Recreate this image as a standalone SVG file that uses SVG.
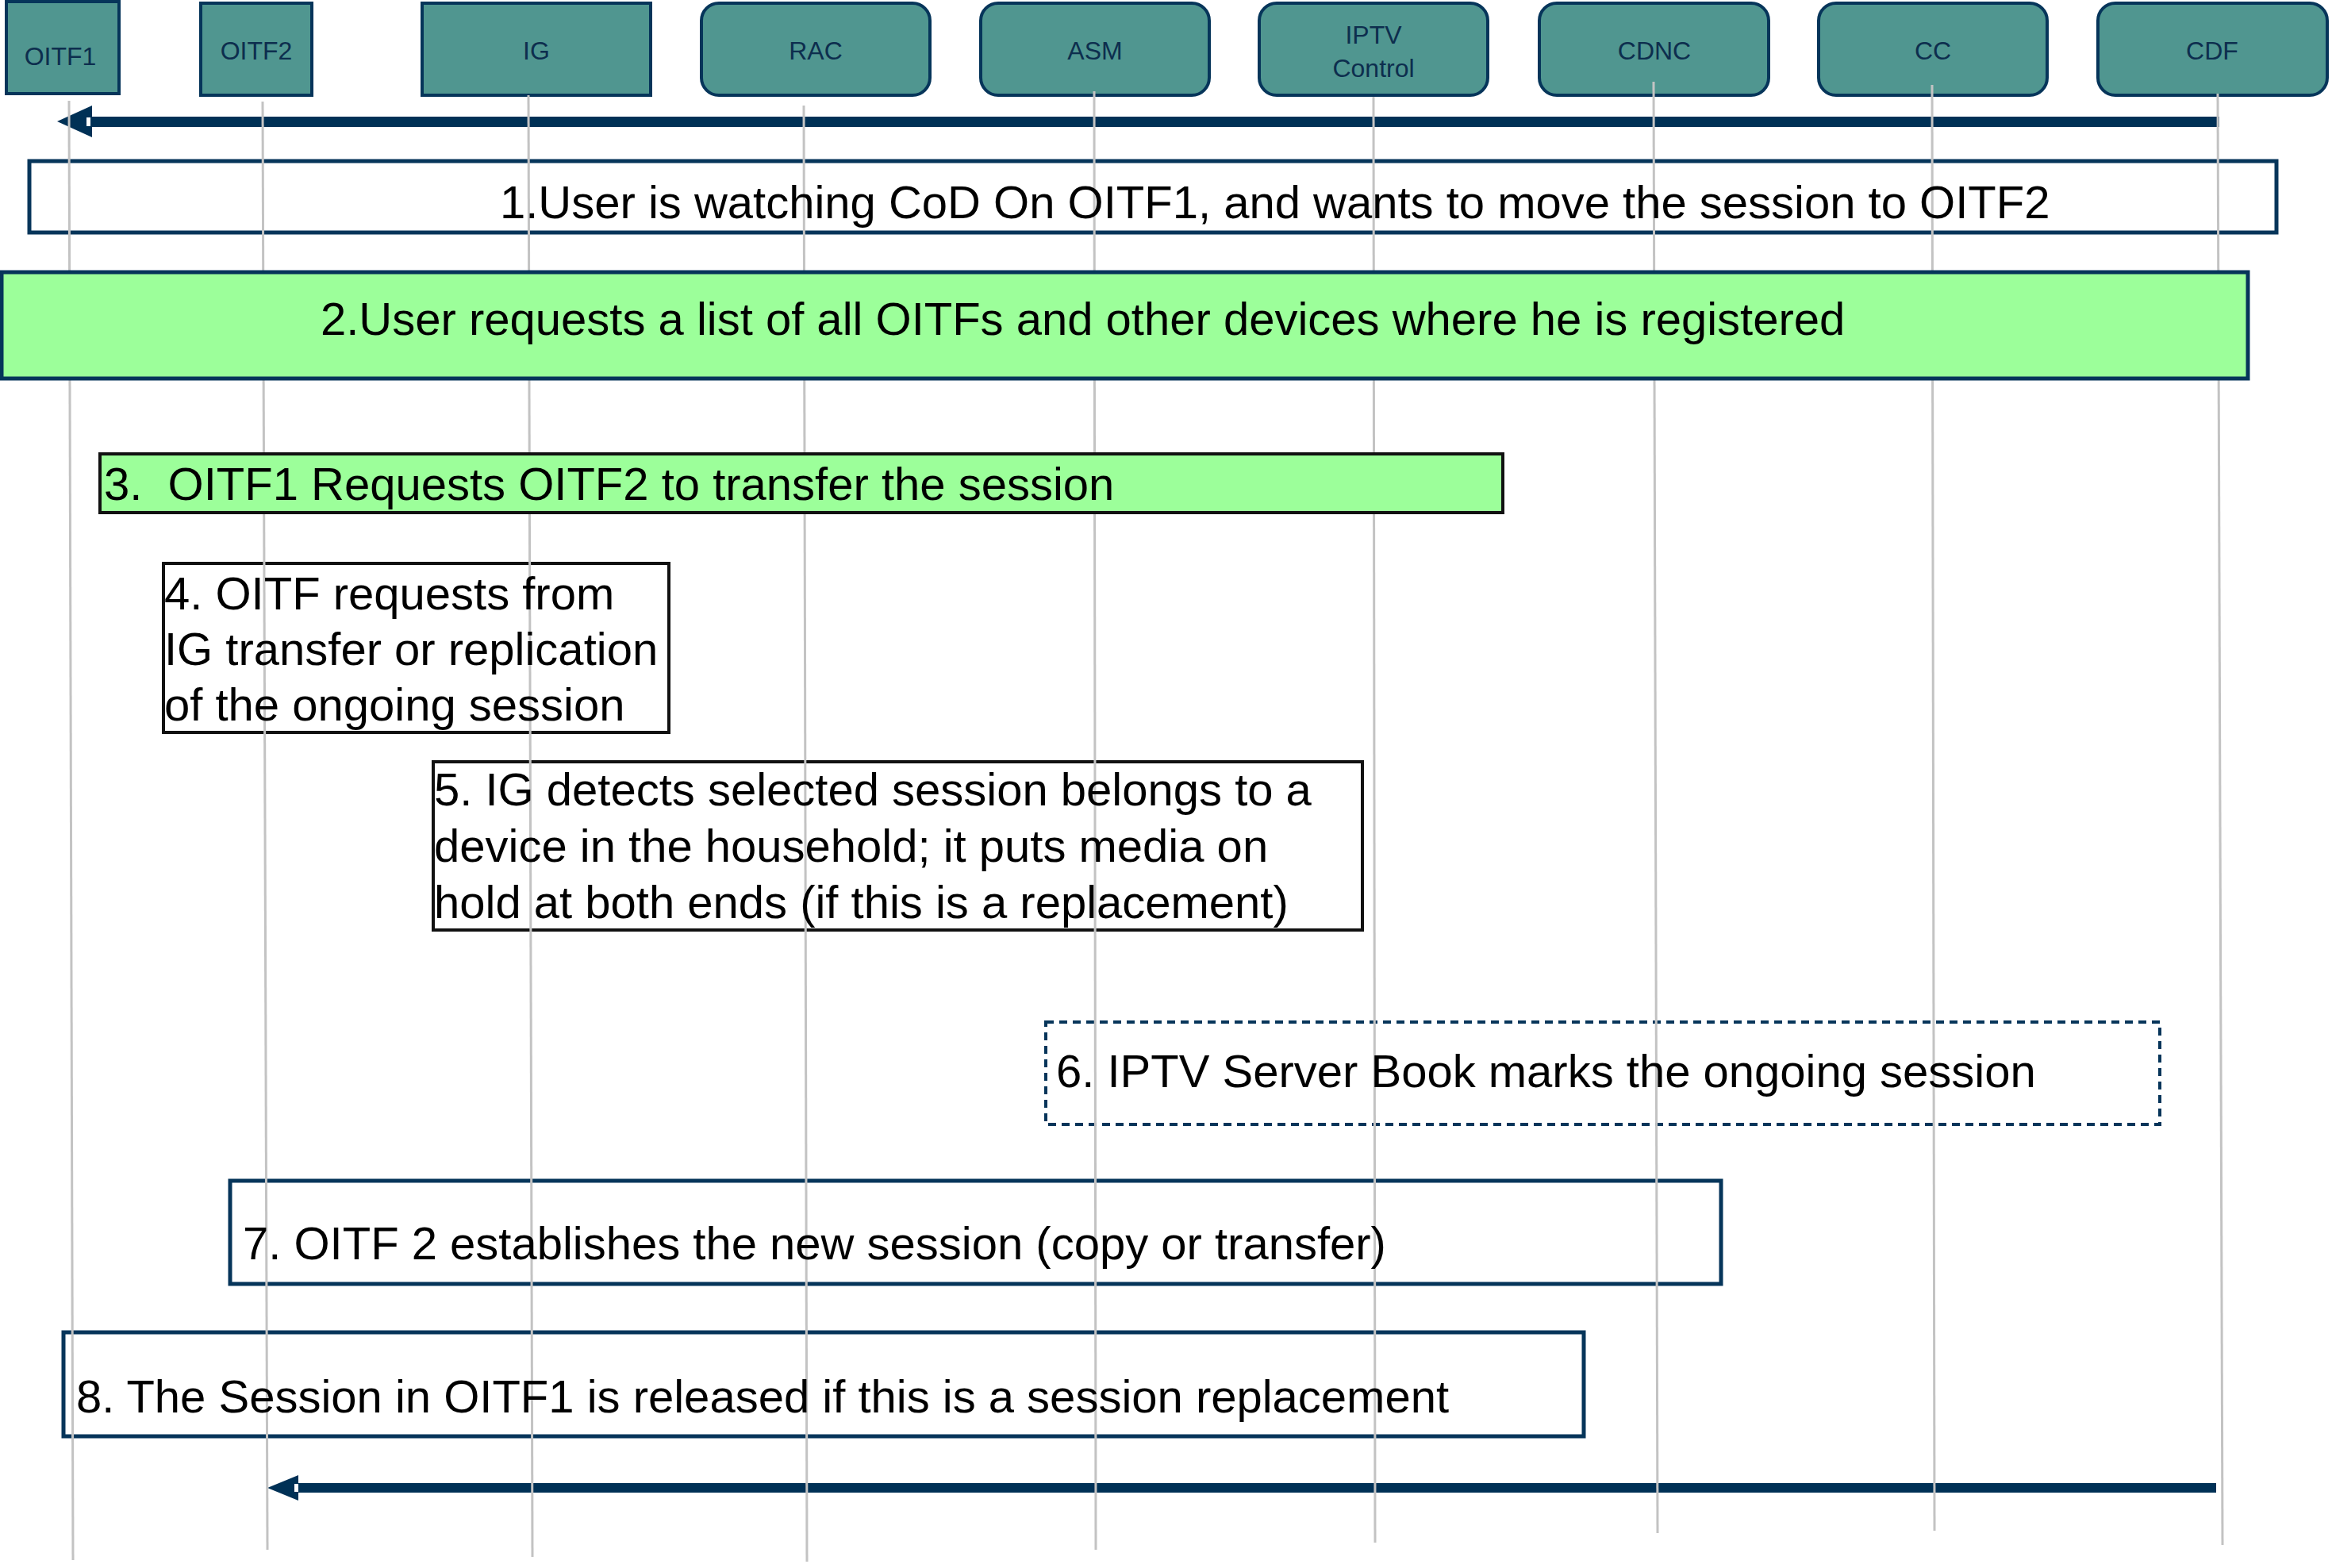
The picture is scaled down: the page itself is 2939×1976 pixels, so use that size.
<svg xmlns="http://www.w3.org/2000/svg" width="2939" height="1976" viewBox="0 0 2939 1976">
<style>
.node rect{fill:#509690;stroke:#06355A;stroke-width:4}
.nlabel{font-family:"Liberation Sans",Arial,sans-serif;font-size:32px;fill:#0D2E4E;text-anchor:middle}
.life{stroke:#C3C3C3;stroke-width:3;fill:none}
.arrow{fill:#003156}
.notch{fill:#ffffff}
.box{fill:none;stroke:#06355A;stroke-width:5}
.boxk{fill:none;stroke:#111111;stroke-width:4}
.green{fill:#9CFF9A}
.dash{fill:none;stroke:#06355A;stroke-width:4;stroke-dasharray:10 7}
.t{font-family:"Liberation Sans",Arial,sans-serif;font-size:58px;fill:#000000}
</style>
<rect width="2939" height="1976" fill="#ffffff"/>
<g id="nodes">
<g id="OITF1" class="node"><rect x="8" y="2" width="142" height="116"/><text class="nlabel" x="76" y="82">OITF1</text></g>
<g id="OITF2" class="node"><rect x="253" y="4" width="140" height="116"/><text class="nlabel" x="323" y="75">OITF2</text></g>
<g id="IG" class="node"><rect x="532" y="4" width="288" height="116"/><text class="nlabel" x="676" y="75">IG</text></g>
<g id="RAC" class="node"><rect x="884" y="4" width="288" height="116" rx="22"/><text class="nlabel" x="1028" y="75">RAC</text></g>
<g id="ASM" class="node"><rect x="1236" y="4" width="288" height="116" rx="22"/><text class="nlabel" x="1380" y="75">ASM</text></g>
<g id="IPTVControl" class="node"><rect x="1587" y="4" width="288" height="116" rx="22"/><text class="nlabel" x="1731" y="55">IPTV</text><text class="nlabel" x="1731" y="97">Control</text></g>
<g id="CDNC" class="node"><rect x="1940" y="4" width="289" height="116" rx="22"/><text class="nlabel" x="2085" y="75">CDNC</text></g>
<g id="CC" class="node"><rect x="2292" y="4" width="288" height="116" rx="22"/><text class="nlabel" x="2436" y="75">CC</text></g>
<g id="CDF" class="node"><rect x="2644" y="4" width="289" height="116" rx="22"/><text class="nlabel" x="2788" y="75">CDF</text></g>
</g>
<g id="connectors">
<rect class="arrow" x="114" y="147" width="2683" height="13"/>
<polygon class="arrow" points="72,153 116,133 116,173"/>
<rect class="notch" x="109" y="148" width="5" height="11"/>
<rect class="arrow" x="374" y="1869" width="2419" height="12"/>
<polygon class="arrow" points="337,1875 376,1859 376,1891"/>
<rect class="notch" x="371" y="1870" width="5" height="10"/>
</g>
<g id="notes-outline">
<rect id="step1-box" class="box" x="37" y="203" width="2832" height="90"/>
<rect id="step4-box" class="boxk" x="206" y="710" width="637" height="213"/>
<rect id="step5-box" class="boxk" x="546" y="960" width="1171" height="212"/>
<rect id="step6-box" class="dash" x="1318" y="1288" width="1404" height="129"/>
<rect id="step7-box" class="box" x="290" y="1488" width="1879" height="130"/>
<rect id="step8-box" class="box" x="80" y="1679" width="1916" height="131"/>
</g>
<g id="lifelines">
<line class="life" x1="87" y1="127" x2="92" y2="1966"/>
<line class="life" x1="331" y1="128" x2="337" y2="1953"/>
<line class="life" x1="666" y1="120" x2="671" y2="1962"/>
<line class="life" x1="1013" y1="133" x2="1017" y2="1968"/>
<line class="life" x1="1379" y1="115" x2="1381" y2="1953"/>
<line class="life" x1="1731" y1="122" x2="1733" y2="1944"/>
<line class="life" x1="2084" y1="103" x2="2089" y2="1932"/>
<line class="life" x1="2435" y1="107" x2="2438" y2="1929"/>
<line class="life" x1="2795" y1="118" x2="2801" y2="1947"/>
</g>
<g id="step1"><text class="t" x="630" y="275">1.User is watching CoD On OITF1, and wants to move the session to OITF2</text></g>
<g id="step2"><rect class="green" x="2" y="343" width="2831" height="134" stroke="#06355A" stroke-width="5"/><text class="t" x="404" y="422">2.User requests a list of all OITFs and other devices where he is registered</text></g>
<g id="step3"><rect class="green" x="126" y="572" width="1768" height="74" stroke="#111111" stroke-width="4"/><text class="t" x="131" y="630">3.&#160; OITF1 Requests OITF2 to transfer the session</text></g>
<g id="step4"><text class="t" x="207" y="768">4. OITF requests from</text><text class="t" x="207" y="838">IG transfer or replication</text><text class="t" x="207" y="908">of the ongoing session</text></g>
<g id="step5"><text class="t" x="547" y="1015">5. IG detects selected session belongs to a</text><text class="t" x="547" y="1086">device in the household; it puts media on</text><text class="t" x="547" y="1157">hold at both ends (if this is a replacement)</text></g>
<g id="step6"><text class="t" x="1331" y="1370">6. IPTV Server Book marks the ongoing session</text></g>
<g id="step7"><text class="t" x="306" y="1587">7. OITF 2 establishes the new session (copy or transfer)</text></g>
<g id="step8"><text class="t" x="96" y="1780">8. The Session in OITF1 is released if this is a session replacement</text></g>
</svg>
